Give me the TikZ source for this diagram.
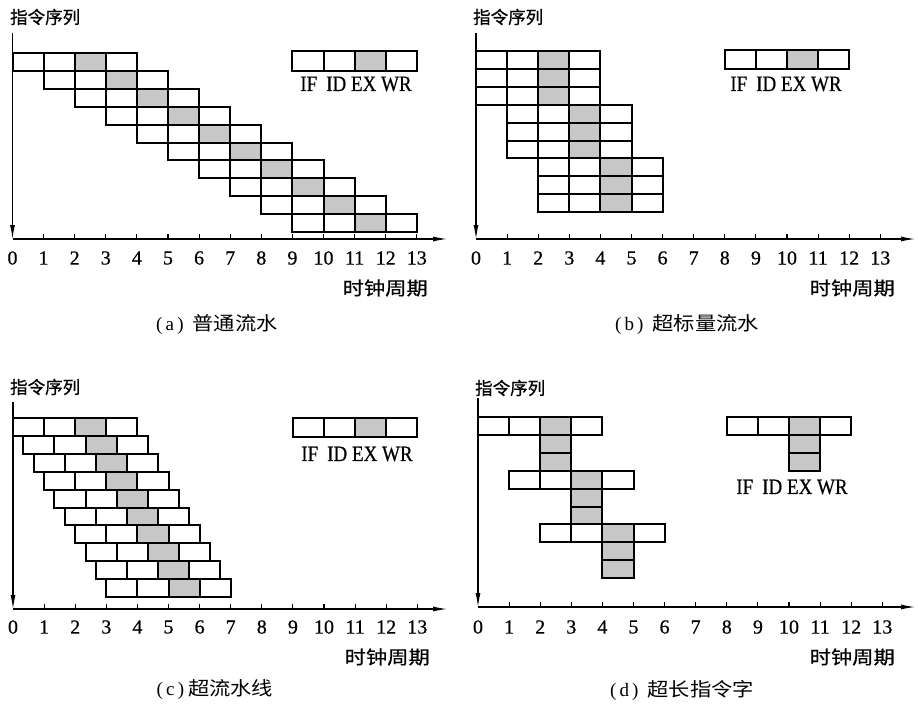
\documentclass[tikz,border=0pt]{standalone}
\usepackage{fontspec}
\setmainfont{Liberation Serif}
\newfontfamily\serb{Liberation Serif}[FakeBold=0.6]
\newfontfamily\cjk{Noto Sans CJK SC}[FakeBold=0.8]
\newfontfamily\cjkw{Noto Sans CJK SC}[FakeStretch=1.15,FakeBold=0.6]
\newfontfamily\cjkc{Noto Sans CJK SC}[FakeStretch=1.12]
\usetikzlibrary{arrows.meta}
\tikzset{
  cell/.style={draw, line width=2pt, minimum width=31.1pt, minimum height=17.9pt, inner sep=0pt, outer sep=0pt},
  ex/.style={cell, fill=black!22},
  ax/.style={line width=1.1pt, -{Latex[length=14pt,width=5pt]}},
  tickmark/.style={line width=1.1pt},
  num/.style={font=\serb\fontsize{20}{20}\selectfont, inner sep=0pt},
  leg/.style={font=\serb\fontsize{19}{19}\selectfont, inner sep=0pt},
  ylab/.style={font=\cjk\fontsize{17.5}{17.5}\selectfont, inner sep=0pt, anchor=west},
  xlab/.style={font=\cjkw\fontsize{18.5}{18.5}\selectfont, inner sep=0pt, anchor=east},
  capt/.style={font=\fontsize{19}{19}\selectfont, inner sep=0pt},
}
\newcommand{\cjkcap}[1]{{\cjkc #1}}
\newcommand{\legtext}{\scalebox{1}[1.15]{IF\hspace{9pt}ID EX WR}}
\begin{document}
\begin{tikzpicture}[x=1pt,y=-1pt]
\useasboundingbox (0,0) rectangle (918,707);
\def\u{31.1}
\def\h{17.9}

% ================= (a) =================
\coordinate (aO) at (12.5,239);
\coordinate (aY) at (12.5,33);
\coordinate (aX) at (447,239);
\draw[ax] (aY) -- (aO);
\draw[ax] (aO) -- (aX);
\foreach \i in {0,...,13} {
  \coordinate (aT\i) at ({12.5+\i*\u},239);
  \ifnum\i>0 \draw[tickmark] (aT\i) -- ++(0,-5); \fi
  \node[num] (aN\i) at ({12.5+\i*\u},258) {\i};
}
\foreach \r in {0,...,9} {
  \foreach \k in {0,...,3} {
    \pgfmathsetmacro\cx{12.5+(\r+\k+0.5)*\u}
    \pgfmathsetmacro\cy{53+(\r+0.5)*\h}
    \ifnum\k=2 \def\st{ex}\else\def\st{cell}\fi
    \node[\st] (a\r-\k) at (\cx,\cy) {};
  }
}
\foreach \k in {0,...,3} {
  \pgfmathsetmacro\cx{12.5+(9+\k+0.5)*\u}
  \ifnum\k=2 \def\st{ex}\else\def\st{cell}\fi
  \node[\st, minimum height=20pt] (aL\k) at (\cx,60.5) {};
}
\node[leg] (aLt) at (356,84) {\legtext};
\node[ylab] (aYl) at (10,17) {指令序列};
\node[xlab] (aXl) at (428,288) {时钟周期};
\node[capt] (aC) at (217,325) {(\,a\,)\hspace{9pt}\cjkcap{普通流水}};

% ================= (b) =================
\coordinate (bO) at (476,239);
\coordinate (bY) at (476,33);
\coordinate (bX) at (915,239);
\draw[ax] (bY) -- (bO);
\draw[ax] (bO) -- (bX);
\foreach \i in {0,...,13} {
  \coordinate (bT\i) at ({476+\i*\u},239);
  \ifnum\i>0 \draw[tickmark] (bT\i) -- ++(0,-5); \fi
  \node[num] (bN\i) at ({476+\i*\u},258) {\i};
}
\foreach \r in {0,...,8} {
  \pgfmathtruncatemacro\g{int(\r/3)}
  \foreach \k in {0,...,3} {
    \pgfmathsetmacro\cx{476+(\g+\k+0.5)*\u}
    \pgfmathsetmacro\cy{51+(\r+0.5)*\h}
    \ifnum\k=2 \def\st{ex}\else\def\st{cell}\fi
    \node[\st] (b\r-\k) at (\cx,\cy) {};
  }
}
\foreach \k in {0,...,3} {
  \pgfmathsetmacro\cx{476+(8+\k+0.5)*\u}
  \ifnum\k=2 \def\st{ex}\else\def\st{cell}\fi
  \node[\st, minimum height=19pt] (bL\k) at (\cx,59.5) {};
}
\node[leg] (bLt) at (786,84) {\legtext};
\node[ylab] (bYl) at (473,17) {指令序列};
\node[xlab] (bXl) at (895,288) {时钟周期};
\node[capt] (bC) at (687,325) {(\,b\,)\hspace{9pt}\cjkcap{超标量流水}};

% ================= (c) =================
\coordinate (cO) at (13,609);
\coordinate (cY) at (13,402);
\coordinate (cX) at (447,609);
\draw[ax] (cY) -- (cO);
\draw[ax] (cO) -- (cX);
\foreach \i in {0,...,13} {
  \coordinate (cT\i) at ({13+\i*\u},609);
  \ifnum\i>0 \draw[tickmark] (cT\i) -- ++(0,-5); \fi
  \node[num] (cN\i) at ({13+\i*\u},627) {\i};
}
\foreach \r in {0,...,9} {
  \foreach \k in {0,...,3} {
    \pgfmathsetmacro\cx{13+(\r/3+\k+0.5)*\u}
    \pgfmathsetmacro\cy{418+(\r+0.5)*\h}
    \ifnum\k=2 \def\st{ex}\else\def\st{cell}\fi
    \node[\st] (c\r-\k) at (\cx,\cy) {};
  }
}
\foreach \k in {0,...,3} {
  \pgfmathsetmacro\cx{13+(9+\k+0.5)*\u}
  \ifnum\k=2 \def\st{ex}\else\def\st{cell}\fi
  \node[\st, minimum height=19pt] (cL\k) at (\cx,427.5) {};
}
\node[leg] (cLt) at (357,454) {\legtext};
\node[ylab] (cYl) at (10,387) {指令序列};
\node[xlab] (cXl) at (430,657) {时钟周期};
\node[capt] (cC) at (215,690) {(\,c\,)\hspace{4pt}\cjkcap{超流水线}};

% ================= (d) =================
\coordinate (dO) at (478,607);
\coordinate (dY) at (478,398);
\coordinate (dX) at (915,607);
\draw[ax] (dY) -- (dO);
\draw[ax] (dO) -- (dX);
\foreach \i in {0,...,13} {
  \coordinate (dT\i) at ({478+\i*\u},607);
  \ifnum\i>0 \draw[tickmark] (dT\i) -- ++(0,-5); \fi
  \node[num] (dN\i) at ({478+\i*\u},627) {\i};
}
\foreach \g in {0,1,2} {
  \foreach \k in {0,...,3} {
    \pgfmathsetmacro\cx{478+(\g+\k+0.5)*\u}
    \pgfmathsetmacro\cy{417+(3*\g+0.5)*\h}
    \ifnum\k=2 \def\st{ex}\else\def\st{cell}\fi
    \node[\st] (d\g-\k) at (\cx,\cy) {};
  }
  \foreach \s in {1,2} {
    \pgfmathsetmacro\cx{478+(\g+2.5)*\u}
    \pgfmathsetmacro\cy{417+(3*\g+\s+0.5)*\h}
    \node[ex] (d\g-x\s) at (\cx,\cy) {};
  }
}
\foreach \k in {0,...,3} {
  \pgfmathsetmacro\cx{478+(8+\k+0.5)*\u}
  \ifnum\k=2 \def\st{ex}\else\def\st{cell}\fi
  \node[\st] (dL\k) at (\cx,426) {};
}
\foreach \s in {1,2} {
  \pgfmathsetmacro\cy{417+(\s+0.5)*\h}
  \node[ex] (dLx\s) at ({478+10.5*\u},\cy) {};
}
\node[leg] (dLt) at (792,487) {\legtext};
\node[ylab] (dYl) at (475,388) {指令序列};
\node[xlab] (dXl) at (895,657) {时钟周期};
\node[capt] (dC) at (682,690) {(\,d\,)\hspace{9pt}\cjkcap{超长指令字}};
\end{tikzpicture}
\end{document}
